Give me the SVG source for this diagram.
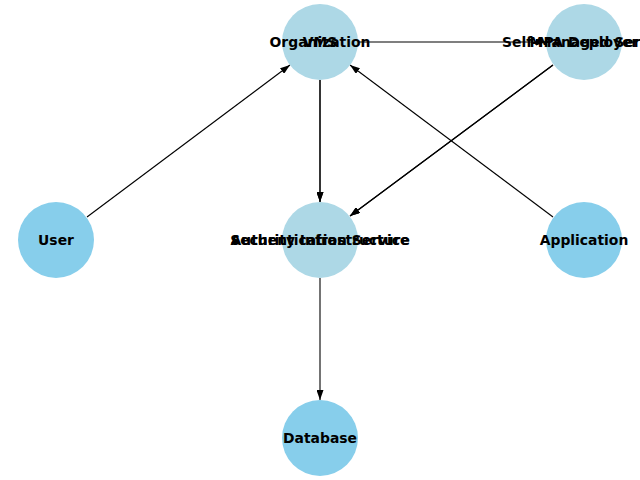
<svg xmlns="http://www.w3.org/2000/svg" width="640" height="480" viewBox="0 0 640 480">
<style>
.edge{stroke:#000;stroke-width:1.1;fill:none}
.n1{fill:#ADD8E6}
.n2{fill:#87CEEB}
.lbl{font-family:"DejaVu Sans",sans-serif;font-weight:bold;font-size:13.9px;fill:#000;text-anchor:middle;dominant-baseline:central}
</style>
<defs>
<marker id="arr" viewBox="0 0 10 7" refX="10" refY="3.5" markerWidth="10" markerHeight="7" markerUnits="userSpaceOnUse" orient="auto">
<path d="M0,0 L10,3.5 L0,7 Z" fill="#000"/>
</marker>
</defs>
<rect width="640" height="480" fill="#fff"/>
<g id="connectors">
<line class="edge" x1="87" y1="217" x2="290" y2="65" marker-end="url(#arr)"/>
<line class="edge" x1="553" y1="217" x2="350" y2="65" marker-end="url(#arr)"/>
<line class="edge" x1="320" y1="80" x2="320" y2="202" marker-end="url(#arr)"/>
<line class="edge" x1="320" y1="80" x2="320" y2="202" marker-end="url(#arr)"/>
<line class="edge" x1="553" y1="65" x2="350" y2="216" marker-end="url(#arr)"/>
<line class="edge" x1="553" y1="65" x2="350" y2="216" marker-end="url(#arr)"/>
<line class="edge" x1="320" y1="278" x2="320" y2="400" marker-end="url(#arr)"/>
<line class="edge" x1="358" y1="42" x2="546" y2="42" marker-end="url(#arr)"/>
</g>
<g id="node-organization"><circle class="n1" cx="320" cy="42" r="38"/></g>
<g id="node-topright"><circle class="n1" cx="584" cy="42" r="38"/></g>
<g id="node-middle"><circle class="n1" cx="320" cy="240" r="38"/></g>
<g id="node-user"><circle class="n2" cx="56" cy="240" r="38"/><text class="lbl" x="56" y="240">User</text></g>
<g id="node-application"><circle class="n2" cx="584" cy="240" r="38"/><text class="lbl" x="584" y="240">Application</text></g>
<g id="node-database"><circle class="n2" cx="320" cy="438" r="38"/><text class="lbl" x="320" y="438">Database</text></g>
<g id="labels">
<text class="lbl" x="320" y="42">Organization</text>
<text class="lbl" x="320" y="42">VMS</text>
<text class="lbl" x="584" y="42">Self-Managed Server</text>
<text class="lbl" x="584" y="42">MPA Deployer</text>
<text class="lbl" x="320" y="240">Security Infrastructure</text>
<text class="lbl" x="320" y="240">Authentication Service</text>
</g>
</svg>
